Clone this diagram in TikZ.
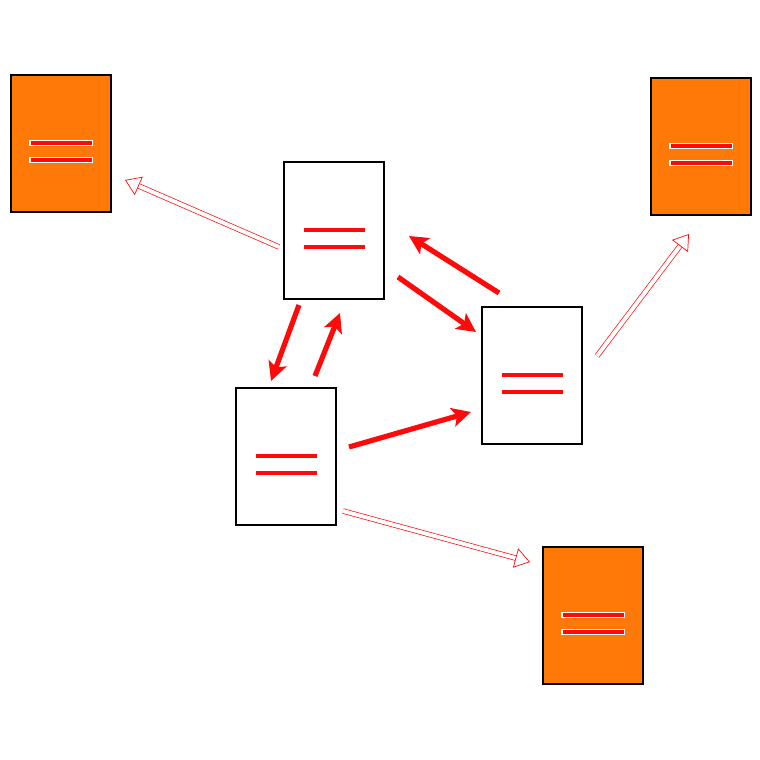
\documentclass[tikz,border=0pt]{standalone}
\usetikzlibrary{arrows.meta}
\definecolor{docorange}{RGB}{255,121,8}
\definecolor{linkred}{RGB}{255,10,10}
\begin{document}
\begin{tikzpicture}[x=1pt,y=-1pt,
  eqmark/.style={line width=3.6pt, draw=linkred},
  eqhalo/.style={line width=5.6pt, draw=white},
  docbox/.style={draw=black, line width=1.6pt, fill=white,
    minimum width=100.5pt, minimum height=137.5pt, inner sep=0pt,
    path picture={
      \draw[eqmark] ([shift={(-30.5,-0.5)}]path picture bounding box.center) -- ++(61,0);
      \draw[eqmark] ([shift={(-30.5,16.5)}]path picture bounding box.center) -- ++(61,0);
    }},
  hotbox/.style={draw=black, line width=1.6pt, fill=docorange,
    minimum width=100.5pt, minimum height=137.5pt, inner sep=0pt,
    path picture={
      \draw[eqhalo] ([shift={(-32,-0.5)}]path picture bounding box.center) -- ++(64,0);
      \draw[eqhalo] ([shift={(-32,16.5)}]path picture bounding box.center) -- ++(64,0);
      \draw[eqmark] ([shift={(-30.5,-0.5)}]path picture bounding box.center) -- ++(61,0);
      \draw[eqmark] ([shift={(-30.5,16.5)}]path picture bounding box.center) -- ++(61,0);
    }},
  link/.style={draw=linkred, line width=5.2pt,
    -{Stealth[length=19pt, width=19pt, inset=4.5pt]}},
  spill/.style={draw=linkred, line width=0.7pt, double=white, double distance=4pt,
    -{Triangle[open, length=15pt, width=20pt]}}
]
\useasboundingbox (0,0) rectangle (760,760);

% documents
\node[docbox] (A) at (334,230.5) {};
\node[docbox] (B) at (286,456.5) {};
\node[docbox] (C) at (532,375.5) {};
\node[hotbox] (TL) at (61,143.5) {};
\node[hotbox] (TR) at (701,146.5) {};
\node[hotbox] (BR) at (593,615.5) {};

% links between the white documents
\draw[link] ([shift={(-35,74.5)}]A.center) -- ([shift={(-15,-75.5)}]B.center);
\draw[link] ([shift={(29,-80.5)}]B.center) -- ([shift={(6,82.5)}]A.center);
\draw[link] ([shift={(64,46.5)}]A.center) -- ([shift={(-56,-43.5)}]C.center);
\draw[link] ([shift={(-33,-82.5)}]C.center) -- ([shift={(75,5.5)}]A.center);
\draw[link] ([shift={(63,-9.5)}]B.center) -- ([shift={(-61,36.5)}]C.center);

% outgoing links to the orange documents
\draw[spill] ([shift={(-55,16.5)}]A.center) -- ([shift={(64,36.5)}]TL.center);
\draw[spill] ([shift={(65,-19.5)}]C.center) -- ([shift={(-12,87.5)}]TR.center);
\draw[spill] ([shift={(57,54.5)}]B.center) -- ([shift={(-63,-53.5)}]BR.center);
\end{tikzpicture}
\end{document}
